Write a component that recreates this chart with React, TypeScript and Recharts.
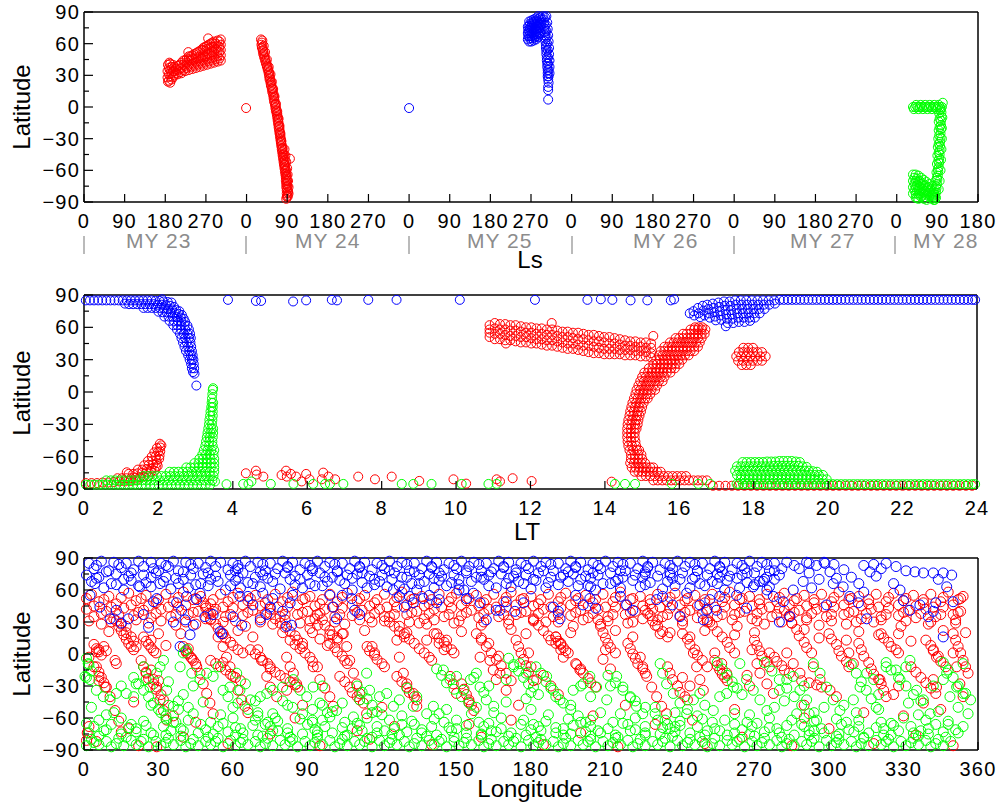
import React from "react";
import { ScatterChart, Scatter, XAxis, YAxis } from "recharts";

const FONT = "'Liberation Sans', Arial, Helvetica, sans-serif";
const RED = "#ff0000";
const BLUE = "#0000ff";
const GREEN = "#00ff00";

// axis ticks
const lsTicks = [0, 90, 180, 270, 360, 450, 540, 630, 720, 810, 900, 990, 1080, 1170, 1260, 1350, 1440, 1530, 1620, 1710, 1800, 1890, 1980];
const ltTicks = [0, 2, 4, 6, 8, 10, 12, 14, 16, 18, 20, 22, 24];
const lonTicks = [0, 30, 60, 90, 120, 150, 180, 210, 240, 270, 300, 330, 360];
const latTicks = [-90, -75, -60, -45, -30, -15, 0, 15, 30, 45, 60, 75, 90];
const yearLabels = ["MY 23", "MY 24", "MY 25", "MY 26", "MY 27", "MY 28"];

// ---- panel 1: cumulative Ls vs latitude
const p1Red = [
  [185,28],[185,34],[186,40],[186,24],[188,25],[188,31],[188,37],[189,42],[191,23],[191,29],[191,35],[191,41],[194,26],[194,32],[194,38],[197,28],[197,34],[197,40],
  [200,30],[200,34],[200,38],[208,31],[208,35],[208,39],[216,32],[216,37],[216,42],[224,34],[224,39],[224,44],
  [232,35],[232,40],[232,45],[232,48],[240,36],[240,41],[240,46],[240,49],[248,37],[248,42],[248,47],[248,51],
  [256,38],[256,43],[256,48],[256,53],[264,39],[264,44],[264,49],[264,54],[264,56],[272,40],[272,45],[272,50],[272,55],[272,58],
  [280,41],[280,46],[280,51],[280,56],[280,60],[288,42],[288,47],[288,52],[288,57],[288,62],[296,43],[296,48],[296,53],[296,58],[296,63],
  [303,44],[303,49],[303,54],[303,59],[303,64],[231,52],[275,65],
  [204,32],[212,36],[220,40],[228,42],[236,44],[244,45],[252,46],[260,47],[268,48],[276,50],[284,52],[292,55],[300,57],
  [204,36],[212,33],[212,40],[220,35],[220,44],[228,37],[228,46],[236,38],[236,48],[244,39],[244,50],[252,40],[252,52],
  [260,41],[260,54],[268,42],[268,53],[268,57],[276,43],[276,55],[276,59],[284,44],[284,57],[284,61],[292,45],[292,60],[300,46],[300,52],[300,62],
  [359,-1],
  [392,64],[395,63],[393,59],[394,56],[396,53],[397,50],[399,47],[401,44],[403,41],[405,38],[407,35],[409,32],[410,29],[411,26],[413,23],
  [414,20],[416,17],[417,14],[419,11],[420,8],[421,5],[423,2],[424,-1],[425,-4],[427,-7],[428,-10],[429,-13],[430,-16],[431,-19],
  [432,-22],[433,-25],[434,-28],[435,-31],[436,-34],[437,-37],[438,-40],[439,-43],[440,-46],[441,-49],[442,-52],[443,-55],[444,-58],
  [445,-61],[446,-64],[447,-67],[447,-70],[448,-73],[448,-76],[449,-79],[449,-82],[449,-85],[448,-87],
  [443,-45],[445,-50],[446,-55],[448,-60],[449,-65],[450,-70],[451,-75],[452,-80],[451,-85],[456,-49],
  [398,58],[401,52],[405,45],[409,38],[413,31],[416,24],[419,17],[422,10],[425,3],[428,-4],[431,-11],[433,-18],[435,-25],[437,-32],[440,-39],
  [394,61],[395,57],[397,54],[398,51],[400,48],[402,45],[404,42],[406,39],[408,36],[410,33],[411,30],[412,27],[414,24],[415,21],
  [417,18],[418,15],[420,12],[421,9],[422,6],[424,3],[425,0],[426,-3],[428,-6],[429,-9],[430,-12],[431,-15],[432,-18],[433,-21],
  [434,-24],[435,-27],[436,-30],[437,-33],[438,-36],[439,-39],[440,-42],[441,-45],[442,-48],[443,-51],[444,-54],[445,-57],[446,-60],
  [447,-63],[448,-66],[449,-69],[449,-72],[450,-75],[450,-78],[451,-81],[451,-84],
  [444,-40],[446,-46],[448,-52],[450,-58],[451,-64],[452,-70],[453,-76],[453,-82],
];

const p1Blue = [
  [720,-1],
  [983,64],[983,70],[983,76],[986,62],[986,67],[986,72],[986,77],[986,81],[991,62],[991,67],[991,72],[991,77],[991,82],
  [996,63],[996,68],[996,73],[996,78],[996,83],[1001,64],[1001,69],[1001,74],[1001,79],[1001,84],
  [1006,66],[1006,71],[1006,76],[1006,81],[1006,86],[1011,70],[1011,75],[1011,80],[1011,85],
  [984,67],[984,73],[988,65],[988,70],[988,75],[988,79],[993,65],[993,70],[993,75],[993,80],[998,66],[998,71],[998,76],[998,81],
  [1003,67],[1003,72],[1003,77],[1003,82],[1008,69],[1008,74],[1008,79],[1008,84],[1013,78],[1013,83],
  [1016,86],[1018,83],[1019,80],[1020,77],[1020,74],[1021,71],[1021,68],[1022,65],[1022,62],[1023,59],[1023,56],[1024,53],
  [1024,50],[1025,47],[1025,44],[1026,41],[1026,38],[1027,35],[1027,32],[1027,29],[1028,26],[1028,19],[1028,16],[1028,7],
  [1024,86],[1026,80],[1027,74],[1028,68],[1029,62],[1030,56],[1030,50],[1031,44],[1031,38],[1031,32],
  [1021,85],[1023,78],[1024,72],[1025,66],[1026,60],[1027,54],[1028,47],[1028,41],[1029,35],[1029,29],[1029,23],
];

const p1Green = [
  [1836,0],[1841,0],[1846,0],[1851,0],[1856,0],[1861,0],[1866,0],[1871,0],[1876,0],[1881,0],[1886,0],[1891,0],[1896,0],[1900,0],[1902,4],
  [1838,-2],[1848,-2],[1858,-2],[1868,-2],[1878,-2],[1888,-2],[1898,-2],[1843,2],[1853,2],[1863,2],[1873,2],[1883,2],[1893,2],
  [1899,-5],[1899,-9],[1898,-13],[1898,-17],[1898,-21],[1897,-25],[1897,-29],[1896,-33],[1896,-37],[1895,-41],[1895,-45],[1894,-49],
  [1894,-53],[1893,-57],[1892,-61],[1891,-65],[1890,-69],[1889,-73],[1888,-77],[1887,-81],[1885,-85],[1882,-88],
  [1894,-6],[1893,-14],[1893,-22],[1892,-30],[1891,-38],[1890,-46],[1889,-54],[1888,-62],[1886,-70],[1884,-78],[1880,-84],
  [1901,-10],[1900,-20],[1900,-30],[1899,-40],[1898,-50],[1897,-60],[1895,-70],[1893,-78],
  [1896,-3],[1895,-11],[1895,-19],[1894,-27],[1893,-35],[1893,-43],[1892,-51],[1891,-59],[1889,-67],[1887,-75],[1884,-82],
  [1836,-64],[1836,-70],[1836,-76],[1836,-82],[1842,-64],[1842,-70],[1842,-76],[1842,-82],[1842,-86],[1848,-65],[1848,-71],[1848,-77],[1848,-83],[1848,-87],
  [1854,-67],[1854,-73],[1854,-79],[1854,-85],[1860,-69],[1860,-75],[1860,-81],[1860,-87],[1866,-71],[1866,-77],[1866,-83],[1866,-88],
  [1872,-73],[1872,-79],[1872,-85],[1878,-75],[1878,-81],[1878,-87],[1884,-83],[1884,-88],
  [1839,-67],[1839,-73],[1839,-79],[1845,-68],[1845,-74],[1845,-80],[1845,-86],[1851,-70],[1851,-76],[1851,-82],[1857,-72],[1857,-78],
  [1857,-84],[1863,-74],[1863,-80],[1863,-86],[1869,-76],[1869,-82],[1875,-78],[1875,-84],[1881,-80],[1881,-86],[1887,-86],
];

// ---- panel 2: local time vs latitude
const p2Blue = [
  [0.05,85],[0.16,85],[0.27,85],[0.38,85],[0.49,85],[0.6,85],[0.71,85],[0.82,85],[0.93,85],[1.04,85],[1.15,85],[1.26,85],[1.37,85],[1.48,85],
  [1.59,85],[1.7,85],[1.81,85],[1.92,84.5],[2.03,84.5],[2.14,84],[2.25,83.5],[2.35,83],
  [1.1,82],[1.21,81.5],[1.32,81.5],[1.43,81.5],[1.54,81.5],[1.65,81.5],[1.76,81.5],[1.87,81.5],[1.98,81],[2.09,81],[2.2,80.5],[2.31,80],[2.42,79],
  [1.6,78],[1.71,78],[1.82,78],[1.93,78],[2.04,78],[2.15,77.5],[2.26,77],[2.37,76.5],[2.48,76],[2.56,75],
  [2.0,74.5],[2.11,74],[2.22,74],[2.33,73.5],[2.44,73],[2.54,72.5],[2.63,71.5],
  [2.16,70],[2.27,70],[2.38,70],[2.49,69.5],[2.6,69],[2.68,68],
  [2.3,66],[2.41,66],[2.52,66],[2.62,65.5],[2.72,65],[2.4,62],[2.5,62],[2.6,62],[2.7,62],[2.78,61.5],
  [2.5,58],[2.61,58],[2.72,58],[2.82,58],[2.58,54],[2.68,54],[2.78,54],[2.85,54],[2.62,50],[2.72,50],[2.82,50],[2.87,50],
  [2.66,46],[2.76,46],[2.86,46],[2.7,42],[2.8,42],[2.88,42],[2.74,38],[2.83,38],[2.9,38],[2.8,34],[2.87,34],[2.92,34],
  [2.84,30],[2.9,30],[2.94,30],[2.88,26],[2.95,26],[2.9,22],[2.96,22],[2.93,18.5],[2.97,17],[3.02,6],
  [2.1,86],[3.87,85.5],[4.62,84.5],[4.76,84.5],[5.62,84],[5.97,85],[6.66,85.5],[6.8,85],[7.64,85.5],[8.4,85.5],[10.1,85.5],
  [12.12,85.5],[13.53,85.5],[13.89,86],[14.2,85.5],[14.69,85],[15.14,85],[15.77,85],[15.86,86],
  [16.28,73],[16.38,75],[16.4,71],[16.5,78],[16.52,73],[16.56,69.5],[16.63,80],[16.65,75.5],[16.68,71],[16.75,81],[16.78,77],[16.8,73],[16.82,69],
  [16.9,82],[16.92,78],[16.94,74],[16.96,70],[16.98,66.5],[17.05,83],[17.07,79],[17.09,75],[17.11,71],[17.13,67],
  [17.2,84],[17.22,80],[17.24,76],[17.26,72],[17.28,68],[17.3,64],[17.35,84],[17.37,80],[17.39,76],[17.41,72],[17.43,68],[17.45,64],
  [17.5,85],[17.52,81],[17.54,77],[17.56,73],[17.58,69],[17.6,65],[17.65,85],[17.67,81],[17.69,77],[17.71,73],[17.73,69],[17.75,65],
  [17.8,85],[17.82,81],[17.84,77],[17.86,73],[17.88,69],[17.9,66],[17.95,85],[17.97,81],[17.99,77],[18.01,73],[18.03,69],
  [18.1,85],[18.12,81],[18.14,77],[18.16,73],[18.25,85],[18.27,81],[18.29,77],[18.4,85],[18.42,81],[18.55,85],[18.57,82],[17.25,61],
  [18.7,85.5],[18.81,85.5],[18.92,85.5],[19.03,85.5],[19.14,85.5],[19.25,85.5],[19.36,85.5],[19.47,85.5],[19.58,85.5],[19.69,85.5],
  [19.8,85.5],[19.91,85.5],[20.02,85.5],[20.13,85.5],[20.24,85.5],[20.35,85.5],[20.46,85.5],[20.57,85.5],[20.68,85.5],[20.79,85.5],
  [20.9,85.5],[21.01,85.5],[21.12,85.5],[21.23,85.5],[21.34,85.5],[21.45,85.5],[21.56,85.5],[21.67,85.5],[21.78,85.5],[21.89,85.5],
  [22.0,85.5],[22.11,85.5],[22.22,85.5],[22.33,85.5],[22.44,85.5],[22.55,85.5],[22.66,85.5],[22.77,85.5],[22.88,85.5],[22.99,85.5],
  [23.1,85.5],[23.21,85.5],[23.32,85.5],[23.43,85.5],[23.54,85.5],[23.65,85.5],[23.76,85.5],[23.87,85.5],[23.95,85.5],
];

const p2Red = [
  [0.05,-84.5],[0.2,-84.5],[0.35,-84.5],[0.5,-84],[0.65,-84],[0.8,-83.5],[0.95,-83],[1.1,-83],[1.25,-82.5],[1.4,-82],
  [0.9,-80],[1.02,-80],[1.14,-80],[1.26,-80],[1.38,-79.5],[1.5,-79],[1.62,-78.5],[1.74,-78],
  [1.2,-76],[1.32,-76],[1.44,-75.5],[1.56,-75],[1.68,-74.5],[1.8,-74],[1.9,-73],
  [1.45,-72],[1.57,-72],[1.69,-71.5],[1.81,-71],[1.93,-70],[1.98,-68.5],[1.62,-68],[1.74,-67.5],[1.86,-67],[1.96,-66],
  [1.72,-64],[1.84,-63.5],[1.95,-63],[2.02,-62],[1.82,-60],[1.93,-59.5],[2.03,-59],[1.89,-56],[1.99,-55.5],[2.05,-55],
  [1.96,-52],[2.05,-51.5],[2.04,-48],[2.08,-49.5],[1.15,-74.5],
  [4.35,-75.4],[4.62,-73],[4.64,-76.6],[4.82,-78.5],[5.31,-77],[5.43,-73],[5.45,-78.5],[5.56,-76],[5.7,-78.5],[5.85,-83],[5.97,-76],
  [6.06,-81],[6.43,-74.8],[6.39,-81],[6.57,-78.5],[6.75,-81],[7.37,-78.5],[7.82,-81],[8.27,-78.5],[9.01,-82.5],[9.93,-81],[10.27,-85],
  [11.09,-81],[11.18,-83],[11.52,-80],[12.03,-82.6],[14.18,-83.2],
  [10.9,62],[10.9,58],[10.9,55],[10.9,51],[11.04,64],[11.04,59],[11.04,54],[11.04,49],[11.18,63],[11.18,58],[11.18,54],[11.18,49],
  [11.32,63],[11.32,58],[11.32,53],[11.32,48],[11.46,62],[11.46,57],[11.46,52],[11.46,48],[11.6,62],[11.6,57],[11.6,52],[11.6,47],
  [11.74,61],[11.74,56],[11.74,51],[11.74,46],[11.88,60],[11.88,55],[11.88,51],[11.88,46],[12.02,60],[12.02,55],[12.02,50],[12.02,45],
  [12.16,59],[12.16,54],[12.16,49],[12.16,45],[12.3,59],[12.3,54],[12.3,49],[12.3,44],[12.44,58],[12.44,53],[12.44,48],[12.44,43],
  [12.58,58],[12.58,53],[12.58,48],[12.58,43],[12.72,57],[12.72,52],[12.72,47],[12.72,42],[12.86,56],[12.86,51],[12.86,46],[12.86,41],
  [13.0,56],[13.0,51],[13.0,45],[13.0,40],[13.14,55],[13.14,50],[13.14,45],[13.14,40],[13.28,55],[13.28,49],[13.28,44],[13.28,39],
  [13.42,54],[13.42,49],[13.42,43],[13.42,38],[13.56,53],[13.56,48],[13.56,43],[13.56,37],[13.7,53],[13.7,47],[13.7,42],[13.7,36],
  [13.84,52],[13.84,47],[13.84,41],[13.84,36],[13.98,51],[13.98,46],[13.98,40],[13.98,35],[14.12,51],[14.12,45],[14.12,40],[14.12,35],
  [14.26,50],[14.26,45],[14.26,40],[14.26,35],[14.4,49],[14.4,44],[14.4,39],[14.4,35],[14.54,48],[14.54,43],[14.54,39],[14.54,34],
  [14.68,47],[14.68,43],[14.68,39],[14.68,34],[14.82,47],[14.82,42],[14.82,38],[14.82,34],[14.96,46],[14.96,42],[14.96,38],[14.96,33],
  [15.1,46],[15.1,41],[15.1,37],[15.1,33],[15.24,45],[15.24,41],[15.24,36],[15.24,32],[12.57,64],[15.3,52],[11.34,45],
  [16.42,60],[16.52,60],[16.62,60],[16.3,58],[16.4,58],[16.5,58],[16.6,58],[16.7,58],
  [16.1,54],[16.2,54],[16.3,54],[16.4,54],[16.5,54],[16.6,54],[16.68,54],
  [15.9,50],[16.0,50],[16.1,50],[16.2,50],[16.3,50],[16.4,50],[16.5,50],[16.6,50],
  [15.75,46],[15.85,46],[15.95,46],[16.05,46],[16.15,46],[16.25,46],[16.35,46],[16.45,46],[16.55,46],
  [15.6,42],[15.7,42],[15.8,42],[15.9,42],[16.0,42],[16.1,42],[16.2,42],[16.3,42],[16.4,42],[16.5,42],
  [15.5,38],[15.6,38],[15.7,38],[15.8,38],[15.9,38],[16.0,38],[16.1,38],[16.2,38],[16.3,38],[16.4,38],
  [15.45,34],[15.55,34],[15.65,34],[15.75,34],[15.85,34],[15.95,34],[16.05,34],[16.15,34],[16.25,34],
  [15.38,30],[15.48,30],[15.58,30],[15.68,30],[15.78,30],[15.88,30],[15.98,30],[16.08,30],
  [15.3,26],[15.4,26],[15.5,26],[15.6,26],[15.7,26],[15.8,26],[15.9,26],[16.0,26],
  [15.18,22],[15.28,22],[15.38,22],[15.48,22],[15.58,22],[15.68,22],[15.78,22],[15.88,22],
  [15.06,18],[15.16,18],[15.26,18],[15.36,18],[15.46,18],[15.56,18],[15.66,18],[15.76,18],
  [15.0,14],[15.1,14],[15.2,14],[15.3,14],[15.4,14],[15.5,14],[15.6,14],
  [14.95,10],[15.05,10],[15.15,10],[15.25,10],[15.35,10],[15.45,10],[15.55,10],
  [14.9,6],[15.0,6],[15.1,6],[15.2,6],[15.3,6],[15.4,6],[14.85,2],[14.95,2],[15.05,2],[15.15,2],[15.25,2],[15.35,2],
  [14.82,-2],[14.92,-2],[15.02,-2],[15.12,-2],[15.22,-2],[14.78,-6],[14.88,-6],[14.98,-6],[15.08,-6],[15.15,-6],
  [14.74,-10],[14.84,-10],[14.94,-10],[15.04,-10],[14.71,-14],[14.81,-14],[14.91,-14],[15.0,-14],
  [14.68,-18],[14.78,-18],[14.88,-18],[14.97,-18],[14.66,-22],[14.76,-22],[14.86,-22],[14.93,-22],
  [14.63,-26],[14.73,-26],[14.83,-26],[14.9,-26],[14.61,-30],[14.71,-30],[14.81,-30],[14.88,-30],
  [14.6,-34],[14.7,-34],[14.8,-34],[14.85,-34],[14.6,-38],[14.7,-38],[14.8,-38],[14.6,-42],[14.7,-42],[14.8,-42],
  [14.61,-46],[14.71,-46],[14.82,-46],[14.63,-50],[14.73,-50],[14.84,-50],[14.66,-54],[14.76,-54],[14.86,-54],[14.92,-54],
  [14.7,-58],[14.8,-58],[14.9,-58],[14.98,-58],[14.7,-62],[14.8,-62],[14.9,-62],[15.0,-62],
  [14.68,-66],[14.78,-66],[14.88,-66],[14.98,-66],[15.08,-66],[14.72,-70],[14.82,-70],[14.92,-70],[15.02,-70],[15.12,-70],[15.22,-70],[15.3,-70],
  [14.8,-74],[14.9,-74],[15.0,-74],[15.1,-74],[15.2,-74],[15.3,-74],[15.4,-74],[15.5,-74],
  [14.98,-78],[15.1,-78],[15.22,-78],[15.34,-78],[15.46,-78],[15.58,-78],[15.7,-78],[15.82,-78],[15.94,-78],[16.06,-78],[16.18,-78],
  [15.3,-82],[15.42,-82],[15.54,-82],[15.66,-82],[15.78,-82],[15.9,-82],[16.02,-82],[16.14,-82],[16.26,-82],[16.38,-82],[16.5,-82],[16.62,-82],[16.74,-82],
  [17.72,41],[17.85,41],[17.98,41],[17.6,37],[17.72,37],[17.85,37],[17.98,37],[18.1,37],[18.22,37],
  [17.53,33],[17.66,33],[17.79,33],[17.92,33],[18.05,33],[18.18,33],[18.32,33],
  [17.58,29],[17.71,29],[17.84,29],[17.97,29],[18.1,29],[18.22,29],[17.68,25],[17.8,25],[17.92,25],
  [16.9,-87],[17.07,-87],[17.24,-87],[17.41,-87],[17.58,-87],[17.75,-87],[17.92,-87],[18.09,-87],[18.26,-87],[18.43,-87],
  [18.6,-87],[18.77,-87],[18.94,-87],[19.11,-87],[19.28,-87],[19.45,-87],[19.62,-87],[19.79,-87],[19.96,-87],[20.13,-87],
  [20.3,-87],[20.47,-87],[20.64,-87],[20.81,-87],[20.98,-87],[21.15,-87],[21.32,-87],[21.49,-87],[21.66,-87],[21.83,-87],
  [22.0,-87],[22.17,-87],[22.34,-87],[22.51,-87],[22.68,-87],[22.85,-87],[23.02,-87],[23.19,-87],[23.36,-87],[23.53,-87],[23.7,-87],[23.87,-87],
];

const p2Green = [
  [0.05,-86],[0.17,-86],[0.28,-86],[0.4,-86],[0.51,-86],[0.63,-86],[0.74,-86],[0.86,-86],[0.97,-86],[1.09,-86],[1.2,-86],[1.32,-86],
  [1.43,-86],[1.55,-86],[1.66,-86],[1.78,-86],[1.89,-86],[2.01,-86],[2.12,-86],[2.24,-86],[2.35,-86],[2.47,-86],[2.58,-86],[2.7,-86],
  [2.81,-86],[2.93,-86],[3.04,-86],[3.16,-86],[3.27,-86],[3.39,-86],
  [0.6,-82],[0.72,-82],[0.84,-82],[0.96,-82],[1.08,-82],[1.2,-82],[1.32,-82],[1.44,-82],[1.56,-82],[1.68,-82],[1.8,-82],[1.92,-82],
  [2.04,-82],[2.16,-82],[2.28,-82],[2.4,-82],[2.52,-82],[2.64,-82],[2.76,-82],[2.88,-82],[3.0,-82],[3.12,-82],[3.24,-82],[3.36,-82],[3.45,-82],
  [1.6,-78],[1.72,-78],[1.84,-78],[1.96,-78],[2.08,-78],[2.2,-78],[2.32,-78],[2.44,-78],[2.56,-78],[2.68,-78],[2.8,-78],[2.92,-78],
  [3.04,-78],[3.16,-78],[3.28,-78],[3.4,-78],[3.48,-78],
  [2.3,-74],[2.42,-74],[2.54,-74],[2.66,-74],[2.78,-74],[2.9,-74],[3.02,-74],[3.14,-74],[3.26,-74],[3.38,-74],[3.5,-74],
  [2.75,-70],[2.86,-70],[2.97,-70],[3.08,-70],[3.19,-70],[3.3,-70],[3.41,-70],[3.5,-70],
  [2.97,-66],[3.08,-66],[3.19,-66],[3.3,-66],[3.41,-66],[3.5,-66],[3.1,-62],[3.2,-62],[3.3,-62],[3.4,-62],[3.5,-62],
  [3.18,-58],[3.28,-58],[3.38,-58],[3.48,-58],[3.22,-54],[3.32,-54],[3.42,-54],[3.5,-54],[3.26,-50],[3.36,-50],[3.46,-50],
  [3.28,-46],[3.37,-46],[3.45,-46],[3.3,-42],[3.38,-42],[3.46,-42],[3.32,-38],[3.4,-38],[3.47,-38],[3.34,-34],[3.42,-34],[3.47,-34],
  [3.36,-30],[3.44,-30],[3.37,-26],[3.45,-26],[3.39,-22],[3.46,-22],[3.4,-18],[3.46,-18],[3.42,-14],[3.46,-14],[3.43,-10],[3.47,-10],
  [3.44,-6],[3.45,-2],[3.46,2],[3.47,3.5],
  [3.52,-83],[3.83,-85.5],[4.28,-85.3],[4.42,-85.3],[4.5,-83],[5.02,-85.3],[5.63,-85.3],[6.16,-85.3],[6.48,-85.3],[6.61,-85.3],[6.97,-85.3],
  [8.54,-85.3],[8.85,-85.3],[9.34,-85.3],[10.15,-85.3],[10.87,-85.3],[11.09,-85.3],[14.27,-85.3],[14.54,-85.3],[14.81,-85.3],
  [15.8,-85.3],[16.51,-85.3],[16.83,-85.3],[17.54,-85.3],
  [17.7,-65],[17.81,-65],[17.92,-65],[18.03,-65],[18.14,-65],[18.25,-65],[18.36,-64.5],[18.47,-64.5],[18.58,-64.5],[18.69,-64],
  [18.8,-64],[18.91,-64],[19.02,-64],[19.13,-64.5],[19.24,-65],
  [17.55,-69],[17.66,-69],[17.77,-69],[17.88,-69],[17.99,-69],[18.1,-69],[18.21,-69],[18.32,-69],[18.43,-69],[18.54,-68.5],
  [18.65,-68.5],[18.76,-68.5],[18.87,-68.5],[18.98,-68.5],[19.09,-68.5],[19.2,-68.5],[19.31,-69],[19.42,-69.5],
  [17.5,-73],[17.61,-73],[17.72,-73],[17.83,-73],[17.94,-73],[18.05,-73],[18.16,-73],[18.27,-73],[18.38,-73],[18.49,-73],[18.6,-73],
  [18.71,-73],[18.82,-73],[18.93,-73],[19.04,-73],[19.15,-73],[19.26,-73],[19.37,-73],[19.48,-73],[19.59,-73.5],[19.7,-74],
  [17.55,-77],[17.66,-77],[17.77,-77],[17.88,-77],[17.99,-77],[18.1,-77],[18.21,-77],[18.32,-77],[18.43,-77],[18.54,-77],[18.65,-77],
  [18.76,-77],[18.87,-77],[18.98,-77],[19.09,-77],[19.2,-77],[19.31,-77],[19.42,-77],[19.53,-77],[19.64,-77],[19.75,-77],[19.86,-77],
  [17.65,-81],[17.76,-81],[17.87,-81],[17.98,-81],[18.09,-81],[18.2,-81],[18.31,-81],[18.42,-81],[18.53,-81],[18.64,-81],[18.75,-81],
  [18.86,-81],[18.97,-81],[19.08,-81],[19.19,-81],[19.3,-81],[19.41,-81],[19.52,-81],[19.63,-81],[19.74,-81],[19.85,-81],[19.96,-81],
  [17.6,-85.5],[17.71,-85.5],[17.82,-85.5],[17.93,-85.5],[18.04,-85.5],[18.15,-85.5],[18.26,-85.5],[18.37,-85.5],[18.48,-85.5],[18.59,-85.5],
  [18.7,-85.5],[18.81,-85.5],[18.92,-85.5],[19.03,-85.5],[19.14,-85.5],[19.25,-85.5],[19.36,-85.5],[19.47,-85.5],[19.58,-85.5],[19.69,-85.5],
  [19.8,-85.5],[19.91,-85.5],[20.02,-85.5],[20.13,-85.5],[20.24,-85.5],[20.35,-85.5],[20.46,-85.5],[20.57,-85.5],[20.68,-85.5],[20.79,-85.5],
  [20.9,-85.5],[21.01,-85.5],[21.12,-85.5],[21.23,-85.5],[21.34,-85.5],[21.45,-85.5],[21.56,-85.5],[21.67,-85.5],[21.78,-85.5],[21.89,-85.5],
  [22.0,-85.5],[22.11,-85.5],[22.22,-85.5],[22.33,-85.5],[22.44,-85.5],[22.55,-85.5],[22.66,-85.5],[22.77,-85.5],[22.88,-85.5],[22.99,-85.5],
  [23.1,-85.5],[23.21,-85.5],[23.32,-85.5],[23.43,-85.5],[23.54,-85.5],[23.65,-85.5],[23.76,-85.5],[23.87,-85.5],[23.95,-85.5],
];

// ---- panel 3: longitude vs latitude
const p3Red = [
  [3,56],[10,54],[18,57],[25,55],[33,56],[40,58],[47,54],[55,56],[62,57],[69,55],[77,56],[84,58],[91,54],[99,56],[106,57],[113,55],
  [121,56],[128,58],[136,54],[143,56],[150,57],[158,55],[165,56],[172,58],[180,54],[187,56],[194,57],[202,55],[209,56],[216,58],
  [224,54],[231,56],[238,57],[246,55],[253,56],[260,58],[268,54],[275,56],[282,57],[290,55],[297,56],[304,58],[312,54],[319,56],
  [326,57],[334,55],[341,56],[348,58],[354,54],
  [1,52],[8,51],[15,53],[23,52],[30,51],[38,53],[45,52],[52,51],[60,53],[67,52],[74,51],[82,53],[89,52],[96,51],[104,53],[111,52],
  [118,51],[126,53],[133,52],[140,51],[148,53],[155,52],[162,51],[170,53],[177,52],[184,51],[192,53],[199,52],[206,51],[214,53],
  [221,52],[228,51],[236,53],[243,52],[250,51],[258,53],[265,52],[272,51],[280,53],[287,52],[294,51],[302,53],[309,52],[316,51],
  [324,53],[331,52],[338,51],[346,53],[353,52],
  [6,49],[13,47],[21,50],[29,48],[36,49],[44,51],[51,47],[58,49],[66,50],[73,48],[80,49],[88,51],[95,47],[102,49],[110,50],[117,48],
  [125,49],[132,51],[139,47],[147,49],[154,50],[161,48],[169,49],[176,51],[183,47],[191,49],[198,50],[205,48],[213,49],[220,51],
  [228,47],[235,49],[242,50],[250,48],[257,49],[264,51],[272,47],[279,49],[286,50],[294,48],[301,49],[308,51],[316,47],[323,49],
  [330,50],[338,48],[345,49],[352,51],
  [4,45],[11,44],[19,46],[26,45],[34,44],[41,46],[49,45],[56,44],[64,46],[71,45],[78,44],[86,46],[93,45],[100,44],[108,46],[115,45],
  [122,44],[130,46],[137,45],[144,44],[152,46],[159,45],[166,44],[174,46],[181,45],[188,44],[196,46],[203,45],[210,44],[218,46],
  [225,45],[232,44],[240,46],[247,45],[254,44],[262,46],[269,45],[276,44],[284,46],[291,45],[298,44],[306,46],[313,45],[320,44],
  [328,46],[335,45],[342,44],[350,46],
  [1,42],[9,40],[16,43],[24,41],[31,42],[38,44],[46,40],[53,42],[60,43],[68,41],[75,42],[82,44],[90,40],[97,42],[104,43],[112,41],
  [119,42],[126,44],[134,40],[141,42],[148,43],[156,41],[163,42],[170,44],[178,40],[185,42],[192,43],[200,41],[207,42],[214,44],
  [222,40],[229,42],[236,43],[244,41],[251,42],[258,44],[266,40],[273,42],[280,43],[288,41],[295,42],[302,44],[310,40],[317,42],
  [324,43],[332,41],[339,42],[346,44],[353,40],
  [7,38],[14,37],[22,39],[29,38],[37,37],[44,39],[51,38],[59,37],[66,39],[73,38],[81,37],[88,39],[95,38],[103,37],[110,39],[117,38],
  [125,37],[132,39],[139,38],[147,37],[154,39],[161,38],[169,37],[176,39],[183,38],[191,37],[198,39],[205,38],[213,37],[220,39],
  [227,38],[235,37],[242,39],[249,38],[257,37],[264,39],[271,38],[279,37],[286,39],[293,38],[301,37],[308,39],[315,38],[323,37],
  [330,39],[337,38],[345,37],[352,39],
  [4,35],[12,33],[20,36],[27,34],[35,35],[42,37],[49,33],[57,35],[64,36],[71,34],[79,35],[86,37],[93,33],[101,35],[108,36],[115,34],
  [123,35],[130,37],[137,33],[145,35],[152,36],[159,34],[167,35],[174,37],[181,33],[189,35],[196,36],[203,34],[211,35],[218,37],
  [225,33],[233,35],[240,36],[247,34],[255,35],[262,37],[269,33],[277,35],[284,36],[291,34],[299,35],[306,37],[313,33],[321,35],
  [328,36],[335,34],[343,35],[350,37],
  [2,31],[11,30],[21,32],[31,31],[41,30],[51,32],[61,31],[71,30],[81,32],[91,31],[101,30],[111,32],[121,31],[131,30],[141,32],[151,31],
  [161,30],[171,32],[181,31],[191,30],[201,32],[211,31],[221,30],[231,32],[241,31],[251,30],[261,32],[271,31],[281,30],[291,32],
  [301,31],[311,30],[321,32],[331,31],[341,30],[351,32],
  [7,28],[17,26],[26,29],[37,27],[45,28],[56,30],[65,26],[76,28],[87,29],[94,27],[105,28],[116,30],[127,26],[138,28],[149,29],[160,27],
  [171,28],[186,30],[197,26],[208,28],[219,29],[230,27],[241,28],[252,30],[263,26],[274,28],[285,29],[296,27],[307,28],[318,30],
  [329,26],[340,28],[351,29],
  [10,21],[39,19],[62,22],[80,20],[91,24],[99,18],[113,22],[130,20],[152,21],[172,23],[196,20],[214,22],[232,19],[250,22],[270,20],
  [290,23],[312,21],[328,19],[346,22],
  [19,16],[20,12],[21,7],[5,2],[6,4],[92,20],[95,14],[88,10],[98,8],[102,15],[116,7],[117,1],[142,19],[143,10],[145,4],[146,13],
  [190,16],[192,10],[192,4],[210,4],[221,16],[244,16],[254,1],[269,4],[283,1],[307,13],[308,1],[342,4],[350,1],[135,29],[138,13],
  [104,19],[54,16],[56,7],[68,16],[70,4],[126,13],[178,19],[179,1],[160,15],[236,20],[262,18],[296,15],[320,18],[333,12],[355,20],
  [30,19],[33,8],
  [4,9],[5,5],[6,2],[7,-1],[8,7],[9,3],[5,-12],[6,-17],[7,-22],[8,-27],[9,-31],[6,-25],
  [13,31],[14,26],[15,22],[16,18],[17,14],[18,10],[19,7],[20,4],[15,28],[17,20],
  [24,16],[25,12],[26,9],[27,6],[28,3],[29,1],[27,13],
  [23,-6],[24,-12],[25,-18],[26,-23],[28,-28],[29,-33],[31,-38],[32,-43],[27,-15],[30,-25],
  [40,7],[41,3],[42,0],[43,-3],[44,-6],[45,-9],[42,5],
  [48,48],[49,43],[50,38],[51,33],[53,28],[54,24],[56,19],[52,40],
  [51,-6],[53,-9],[55,-12],[57,-15],[59,-19],[61,-22],[63,-25],[56,-8],
  [56,19],[57,15],[59,11],[60,8],[62,4],[64,1],
  [67,4],[69,0],[71,-3],[72,-6],[74,-9],[75,-12],
  [75,-14],[77,-17],[79,-20],[81,-23],[83,-26],[85,-29],[86,-31],
  [75,38],[77,33],[79,29],[81,25],[83,21],[85,17],[86,13],
  [83,13],[85,9],[87,5],[89,1],[91,-3],[92,-7],[94,-12],[88,7],
  [94,37],[96,32],[97,27],[99,22],[100,18],[102,13],
  [99,10],[101,6],[102,2],[104,-2],[105,-6],[106,-9],
  [103,-21],[105,-26],[107,-31],[108,-36],[110,-40],[111,-43],
  [114,7],[115,3],[117,-1],[118,-5],[120,-9],[121,-12],
  [121,35],[123,30],[125,26],[127,21],[129,16],
  [126,-21],[128,-26],[130,-31],[131,-36],[133,-40],[134,-43],
  [129,19],[131,14],[133,10],[135,5],[137,1],[139,-3],[140,-6],
  [141,19],[143,15],[145,11],[146,7],[148,4],[149,1],
  [152,-28],[153,-33],[154,-38],[155,-43],[156,-48],[157,-53],
  [158,19],[160,13],[162,7],[164,1],[166,-5],[168,-11],[170,-18],[172,-25],[163,10],[167,-2],
  [174,13],[175,7],[176,1],[177,-5],[178,-11],[179,-17],[181,-25],
  [181,32],[183,27],[185,22],[187,17],[188,13],[190,10],
  [190,16],[191,12],[192,9],[193,6],[194,3],[195,1],
  [198,-9],[200,-14],[201,-18],[203,-23],[204,-27],[206,-31],
  [207,32],[208,26],[209,20],[210,15],[211,10],[212,6],[214,1],
  [219,10],[220,5],[221,0],[222,-4],[223,-9],[225,-14],[226,-18],
  [226,41],[228,36],[229,31],[231,26],[233,21],[235,16],
  [235,-12],[236,-18],[237,-24],[239,-30],[240,-36],[242,-40],[243,-43],
  [241,19],[243,14],[244,9],[246,4],[247,-1],[249,-6],[251,-12],
  [251,32],[253,27],[255,21],[257,16],[259,11],[260,6],[262,1],
  [254,-6],[255,-11],[256,-15],[257,-19],[258,-22],[259,-25],
  [270,13],[271,8],[272,3],[273,-2],[275,-7],[276,-12],
  [276,1],[278,-3],[279,-7],[281,-11],[282,-15],[284,-18],
  [282,41],[284,35],[285,29],[287,23],[288,17],[290,11],[291,6],[293,1],
  [289,-25],[292,-27],[295,-29],[297,-31],
  [300,19],[301,14],[303,9],[304,3],[305,-2],[307,-7],[308,-12],
  [312,10],[313,4],[314,-2],[316,-8],[317,-14],[318,-19],[320,-24],[321,-28],
  [321,19],[322,15],[324,11],[325,7],[327,4],[328,1],
  [333,-12],[335,-17],[337,-22],[339,-27],[341,-32],[343,-37],
  [339,13],[341,8],[342,3],[344,-2],[345,-7],[347,-12],
  [350,19],[351,13],[352,7],[353,1],[354,-6],[355,-12],[356,-18],
  [2,-3],[4,-12],[6,-21],[8.5,-31],[10.5,-40],[12.5,-53],[14,-63],[15,-73],[2,-68],[1,-81],[1.3,-74],[12.5,-6],[13,-9],
  [25,-17],[28,-24],[29.3,-31],[30.6,-43],[32,-53],[33.3,-62],[29.3,-87],
  [41.3,1],[43.4,-4],[45.4,-12],[46.7,-18],[48,-28],[49.4,-37],[50.7,-46],[52,-56],
  [57.4,-3],[58.8,-12],[60,-21],[62,-34],[63.5,-43],[64.8,-49],[71.5,-6],[73.6,-21],[75,-31],[77.6,-40],
  [81.6,-3],[83,-12],[84.3,-18],[85.6,-28],[81.6,-34],[92.3,-12],[95,-24],[97,-32],[99,-40],[100.4,-49],
  [104.4,19],[105.8,7],[107,-6],[108.5,-18],[109.8,-28],[111,-37],[112.5,-46],[113.8,-56],
  [127,-3],[128.6,-18],[130,-28],[132.6,-37],[134,-49],[147.4,-21],[148.7,-28],[150,-37],
  [159.5,-3],[163.5,-6],[164.8,-15],[166,-24],[167.5,-18],[170,-34],[180,-12],[182.3,-24],[193,-3],[198.4,-10],[199.7,-15],
  [224,-3],[225,-12],[226.6,-21],[228.6,-31],[230.6,-40],[232.6,-49],[234.6,-56],[245.4,1],[246.7,-12],[248,-24],[249.4,-34],
  [256.8,-9],[258.8,-18],[271,-9],[272.2,-18],[275,-28],[277.6,-37],[285.6,-9],[288.3,-18],[293.7,-12],[296.4,-24],[300.4,-34],[303,-40],
  [309.8,-9],[320.5,-24],[322,-34],[323,-40],[343.3,-3],[342,-24],[343.3,-31],[351.4,-12],[352.7,-28],[354,-40],
  [185,-20],[188,-30],[191,-38],[209,-5],[212,-14],[241,-22],[244,-30],[267,-20],[268,-30],[326,-38],[328,-30],[338,-46],[345,-52],
  [314,-55],[290,-48],[262,-52],[218,-48],[175,-48],[155,-45],[120,-50],[88,-48],[66,-55],[36,-58],[20,-45],
  [5,-82],[18,-70],[22,-86],[40,-78],[58,-84],[75,-75],[95,-86],[115,-80],[125,-68],[140,-85],[160,-78],[172,-62],[185,-85],[200,-74],
  [215,-87],[230,-66],[250,-84],[265,-78],[285,-86],[300,-70],[318,-84],[335,-76],[350,-86],[45,-64],[85,-60],[110,-72],[155,-66],
  [205,-58],[245,-62],[290,-60],[330,-58],
];

const p3Blue = [
  [2,85],[7,87],[12,86],[17,85],[22,87],[27,86],[31,85],[36,87],[41,86],[46,85],[51,87],[55,86],[60,85],[65,87],[70,86],[75,85],
  [80,87],[84,86],[89,85],[94,87],[99,86],[104,85],[109,87],[113,86],[118,85],[123,87],[128,86],[133,85],[138,87],[142,86],[147,85],
  [152,87],[157,86],[162,85],[167,87],[171,86],[176,85],[181,87],[186,86],[191,85],[196,87],[200,86],[205,85],[210,87],[215,86],
  [220,85],[225,87],[229,86],[234,85],[239,87],[244,86],[249,85],[254,87],[258,86],[263,85],[268,87],[273,86],[278,85],[283,86],
  [292,85],[298,86],
  [5,83],[14,84],[24,82],[33,83],[43,84],[53,82],[62,83],[72,84],[82,82],[91,83],[101,84],[111,82],[120,83],[130,84],[140,82],
  [149,83],[159,84],[169,82],[178,83],[188,84],[198,82],[207,83],[217,84],[227,82],[236,83],[246,84],[256,82],[265,83],[275,84],[286,83],
  [4,80],[10,78],[15,81],[20,79],[28,80],[34,82],[38,78],[44,80],[49,81],[58,79],[62,80],[67,82],[73,78],[78,80],[82,81],[87,79],
  [92,80],[97,82],[102,78],[107,80],[111,81],[116,79],[121,80],[126,82],[131,78],[136,80],[140,81],[145,79],[150,80],[155,82],
  [160,78],[165,80],[169,81],[174,79],[179,80],[184,82],[189,78],[194,80],[198,81],[203,79],[208,80],[213,82],[218,78],[223,80],
  [227,81],[232,79],[237,80],[242,82],[247,78],[252,80],[256,81],[261,79],[266,80],[271,82],[276,78],[281,80],
  [9,77],[19,76],[30,78],[40,77],[50,76],[61,78],[71,77],[81,76],[92,78],[102,77],[112,76],[123,78],[133,77],[143,76],[154,78],
  [164,77],[174,76],[185,78],[195,77],[205,76],[216,78],[226,77],[236,76],[247,78],[257,77],[267,76],[278,78],
  [1,74],[6,72],[13,75],[18,73],[24,74],[29,76],[33,72],[43,74],[48,75],[53,73],[59,74],[64,76],[69,72],[72,74],[77,75],[85,73],
  [90,74],[95,76],[100,72],[106,74],[110,75],[115,73],[120,74],[125,76],[130,72],[135,74],[139,75],[144,73],[149,74],[154,76],
  [158,72],[163,74],[168,75],[173,73],[178,74],[183,76],[188,72],[193,74],[197,75],[202,73],[207,74],[212,76],[217,72],[222,74],
  [226,75],[231,73],[236,74],[241,76],[246,72],[251,74],[255,75],[260,73],[265,74],[270,76],[275,72],[280,74],
  [5,71],[16,70],[27,72],[37,71],[51,70],[62,72],[74,71],[87,70],[97,72],[108,71],[117,70],[128,72],[141,71],[151,70],[160,72],
  [171,71],[181,70],[192,72],[204,71],[215,70],[225,72],[237,71],[245,70],[256,72],[263,71],[274,70],
  [3,68],[11,66],[19,69],[25,67],[32,68],[40,70],[47,66],[54,68],[61,69],[66,67],[76,68],[83,70],[91,66],[98,68],[103,69],[112,67],
  [119,68],[124,70],[132,66],[137,68],[143,69],[148,67],[156,68],[161,70],[170,66],[175,68],[182,69],[187,67],[195,68],[200,70],
  [209,66],[214,68],[221,69],[228,67],[235,68],[240,70],[248,66],[253,68],[259,69],[267,67],[272,68],[278,70],
  [13,65],[22,64],[38,66],[45,65],[59,64],[68,66],[85,65],[93,64],[105,66],[117,65],[127,64],[135,66],[151,65],[163,64],[177,66],
  [191,65],[203,64],[212,66],[226,65],[238,64],[255,66],[270,65],
  [8,62],[16,60],[27,63],[35,61],[42,62],[50,64],[57,60],[63,62],[71,63],[79,61],[88,62],[96,64],[108,60],[114,62],[122,63],[129,61],
  [141,62],[146,64],[153,60],[166,62],[172,63],[180,61],[186,62],[199,64],[206,60],[216,62],[224,63],[233,61],[244,62],[250,64],
  [258,60],[264,62],[276,63],
  [4.4,66],[2.4,55],[6.4,44],[10.5,33],[13,41],[15,29],[17.9,33],[22.5,63],[23.9,37],[26,25],[28,49],[29.3,52],[30.6,66],[36,30],
  [37.3,48],[38.7,7],[39.3,41],[40.7,32],[42.7,18],[44,27],[45.4,51],[46.7,57],[41.3,54],[48.7,35],[52,37],[54.8,21],[55.4,19],
  [60,35],[62.8,54],[63.5,27],[66,54],[68,46],[71,32],[72,57],[73.6,37],[75,44],[76,52],[80,40],[81.6,26],[83.6,27],[84,55],[83,48],
  [99,55],[100.4,44],[101.7,33],[104,55],[107.8,52],[109,41],[111,37],[124.6,60],[127,54],[129,44],[131,54],[134,60],[136.6,52],
  [139,55],[142,48],[143,51],[132.6,48],[151,60],[154,52],[156.8,57],[159.5,48],[162,32],[166,41],
  [167.5,41],[170,49],[173.5,40],[177,48],[189,44],[191.7,33],[191,40],[198,55],[201,46],[203.7,52],[206,43],[204,63],[218.5,46],
  [221,41],[216,54],[230.6,51],[233,54],[237,46],[240,35],[242.7,57],[248,46],[250.7,41],[252,51],[254.7,41],[249.4,32],[256,54],
  [262.8,55],[266.8,43],[269.5,63],[273.5,68],[275,60],[277.6,54],[280,30],[281.6,49],[284.3,35],
  [285.6,60],[289.6,68],[292,76],[295,83],[298.4,85],[300.4,77],[303,71],[305.7,63],[308.4,54],[311.8,48],[315.2,33],[299,46],
  [301.7,66],[288,80],[291,86],[302,84],[306,79],[309,72],[312,66],[314,58],[296,70],[293,62],
  [316.5,77],[319,73],[323,85],[326,66],[328.6,60],[334.6,77],[338,76],[342,76],[346,76],[349.4,74],[347.4,63],[321,80],[331,78],
  [314,83],[318,84],[327,82],[344,70],
  [332.6,41],[336.6,46],[342,40],[343,48],[346,16],[350,49],[340,35],[330,50],
];

const p3Green = [
  [1,-86],[6,-85],[11,-87],[16,-86],[21,-85],[26,-87],[31,-86],[36,-85],[41,-87],[46,-86],[51,-85],[56,-87],[61,-86],[66,-85],
  [71,-87],[76,-86],[81,-85],[86,-87],[91,-86],[96,-85],[101,-87],[106,-86],[111,-85],[116,-87],[121,-86],[126,-85],[131,-87],
  [136,-86],[141,-85],[146,-87],[151,-86],[156,-85],[161,-87],[166,-86],[171,-85],[176,-87],[181,-86],[186,-85],[191,-87],[196,-86],
  [201,-85],[206,-87],[211,-86],[216,-85],[221,-87],[226,-86],[231,-85],[236,-87],[241,-86],[246,-85],[251,-87],[256,-86],[261,-85],
  [266,-87],[271,-86],[276,-85],[281,-87],[286,-86],[291,-85],[296,-87],[301,-86],[306,-85],[311,-87],[316,-86],[321,-85],[326,-87],
  [331,-86],[336,-85],[341,-87],[346,-86],
  [4,-83],[13,-84],[23,-82],[33,-83],[43,-84],[53,-82],[63,-83],[73,-84],[83,-82],[93,-83],[103,-84],[113,-82],[123,-83],[133,-84],
  [143,-82],[153,-83],[163,-84],[173,-82],[183,-83],[193,-84],[203,-82],[213,-83],[223,-84],[233,-82],[243,-83],[253,-84],[263,-82],
  [273,-83],[283,-84],[293,-82],[303,-83],[313,-84],[323,-82],[333,-83],[343,-84],
  [3,-80],[9,-82],[14,-79],[19,-81],[24,-80],[29,-82],[34,-79],[39,-81],[44,-80],[49,-82],[54,-79],[59,-81],[64,-80],[69,-82],
  [74,-79],[79,-81],[84,-80],[89,-82],[94,-79],[99,-81],[104,-80],[109,-82],[114,-79],[119,-81],[124,-80],[129,-82],[134,-79],
  [139,-81],[144,-80],[149,-82],[154,-79],[159,-81],[164,-80],[169,-82],[174,-79],[179,-81],[184,-80],[189,-82],[194,-79],[199,-81],
  [204,-80],[209,-82],[214,-79],[219,-81],[224,-80],[229,-82],[234,-79],[239,-81],[244,-80],[249,-82],[254,-79],[259,-81],[264,-80],
  [269,-82],[274,-79],[279,-81],[284,-80],[289,-82],[294,-79],[299,-81],[304,-80],[309,-82],[314,-79],[319,-81],[324,-80],[329,-82],
  [334,-79],[339,-81],[344,-80],[349,-82],
  [6,-77],[17,-78],[28,-76],[39,-77],[50,-78],[61,-76],[72,-77],[83,-78],[94,-76],[105,-77],[116,-78],[127,-76],[138,-77],[149,-78],
  [160,-76],[171,-77],[182,-78],[193,-76],[204,-77],[215,-78],[226,-76],[237,-77],[248,-78],[259,-76],[270,-77],[281,-78],[292,-76],
  [303,-77],[314,-78],[325,-76],[336,-77],[347,-78],
  [2,-74],[8,-72],[15,-75],[21,-73],[27,-74],[33,-76],[40,-72],[46,-74],[52,-75],[58,-73],[64,-74],[70,-76],[76,-72],[82,-74],
  [88,-75],[94,-73],[100,-74],[106,-76],[112,-72],[118,-74],[124,-75],[130,-73],[136,-74],[142,-76],[148,-72],[154,-74],[160,-75],
  [166,-73],[172,-74],[178,-76],[184,-72],[190,-74],[196,-75],[202,-73],[208,-74],[214,-76],[220,-72],[226,-74],[232,-75],[238,-73],
  [244,-74],[250,-76],[256,-72],[262,-74],[268,-75],[274,-73],[280,-74],[286,-76],[292,-72],[298,-74],[304,-75],[310,-73],[316,-74],
  [322,-76],[328,-72],[334,-74],[340,-75],[346,-73],[352,-74],
  [9,-71],[21,-70],[35,-72],[49,-71],[63,-70],[78,-72],[93,-71],[108,-70],[121,-72],[136,-71],[150,-70],[164,-72],[180,-71],[193,-70],
  [207,-72],[222,-71],[236,-70],[251,-72],[265,-71],[279,-70],[294,-72],[308,-71],[322,-70],[337,-72],[351,-71],
  [4,-68],[11,-66],[18,-69],[25,-67],[32,-68],[39,-70],[47,-66],[54,-68],[61,-69],[68,-67],[75,-68],[82,-70],[90,-66],[97,-68],
  [104,-69],[111,-67],[118,-68],[125,-70],[133,-66],[140,-68],[147,-69],[154,-67],[161,-68],[168,-70],[176,-66],[183,-68],[190,-69],
  [197,-67],[204,-68],[211,-70],[219,-66],[226,-68],[233,-69],[240,-67],[247,-68],[254,-70],[262,-66],[269,-68],[276,-69],[283,-67],
  [290,-68],[297,-70],[305,-66],[312,-68],[319,-69],[326,-67],[333,-68],[340,-70],[348,-66],[354,-68],
  [1,-65],[19,-66],[37,-64],[56,-65],[73,-66],[92,-64],[110,-65],[128,-66],[145,-64],[163,-65],[181,-66],[200,-64],[217,-65],[235,-66],
  [253,-64],[271,-65],[289,-66],[307,-64],[325,-65],[343,-66],
  [6,-62],[15,-60],[24,-63],[33,-61],[42,-62],[51,-64],[60,-60],[69,-62],[78,-63],[87,-61],[96,-62],[105,-64],[114,-60],[123,-62],
  [132,-63],[141,-61],[150,-62],[159,-64],[168,-60],[177,-62],[186,-63],[195,-61],[204,-62],[213,-64],[222,-60],[231,-62],[240,-63],
  [249,-61],[258,-62],[267,-64],[276,-60],[285,-62],[294,-63],[303,-61],[312,-62],[321,-64],[330,-60],[339,-62],[348,-63],
  [9,-57],[31,-55],[55,-57],[76,-56],[98,-55],[120,-57],[143,-56],[165,-55],[187,-57],[216,-56],[238,-55],[268,-57],[287,-56],
  [311,-55],[336,-57],[356,-56],
  [0.4,-21],[1.7,-9],[2.4,-24],[5,-34],[7.8,-40],[10.5,-43],[13,-37],[17,-37],[20,-40],[21,-28],[24,-12],[25,-24],[26.6,-31],
  [29.3,-18],[30.6,-12],[32,-6],[33.3,-34],[36,-49],[38.7,-12],[40,1],[41.3,4],[43.4,-18],[46.7,-24],[49.4,-18],[52,-21],[54,-12],
  [56,-34],[58.8,-31],[61.5,-18],[62.8,-34],[67,-43],[71,-40],[73.6,-37],[76,-34],[80,-31],[84.3,-24],[87,-34],[89.7,-40],[92.3,-31],
  [95,-46],[99,-59],[101.7,-53],[108.5,-59],[111,-43],[113.8,-18],[115,-34],[119,-40],[121.9,-37],[124.6,-49],[127,-43],[132.6,-49],
  [134,-40],[138,-56],[140.7,-49],[144.7,-15],[147.4,-24],[150,-21],[152.8,-34],[155.6,-24],[158,-18],[159.5,-31],[162,-43],[165,-49],
  [170,-24],[173,-12],[175.5,-9],[178,-18],[181,-31],[186.3,-21],[189,-34],[191.7,-43],[197,-34],[201,-28],[203.7,-21],[206.4,-31],
  [210.5,-43],[214.5,-21],[217,-31],[220,-40],[222.5,-49],[225,-56],[232,-9],[233,-18],[234.6,-28],[237.3,-37],[240,-46],[242.7,-56],
  [245.4,-43],[248,-37],[253.4,-53],[258.8,-37],[261.5,-31],[264.1,-9],[266.8,-24],[269.5,-34],[272.2,-43],[275,-53],[280,-34],
  [283,-24],[285.6,-21],[288.3,-34],[291,-43],[293.7,-9],[296.4,-18],[299,-31],[301.7,-43],[304.4,-53],[309.8,-43],[312.5,-31],
  [315.2,-18],[318,-24],[323,-12],[327,-15],[328.6,-24],[331,-12],[332.6,-6],[335.3,-34],[338,-43],[340.7,-56],[346,-24],[347.4,-18],
  [348.7,-40],[351.4,-31],[354,-9],[354,-37],
  [3,-50],[12,-55],[27,-48],[38,-52],[48,-45],[60,-50],[70,-55],[82,-48],[92,-52],[104,-46],[116,-55],[128,-58],[146,-52],[156,-56],
  [170,-45],[180,-52],[196,-48],[208,-55],[230,-50],[250,-48],[262,-56],[278,-50],[294,-55],[306,-48],[320,-52],[332,-46],[344,-54],
  [352,-50],[15,-30],[34,-26],[44,-30],[65,-28],[96,-30],[130,-32],[183,-38],[212,-30],[256,-40],[320,-38],[342,-30],
  [1,-4],[2,-10],[3,-16],[1,-22],
  [20,-22],[22,-28],[24,-34],[26,-40],[28,-46],[30,-52],[33,-58],[36,-64],[38,-44],[40,-38],[42,-50],[44,-56],[34,-48],
  [58,-40],[62,-46],[66,-52],[70,-58],[74,-64],[80,-44],[84,-50],[88,-56],[92,-62],[96,-48],[100,-54],[77,-60],[69,-44],
  [110,-30],[112,-36],[114,-42],[116,-48],[118,-54],
  [142,-14],[144,-20],[146,-27],[149,-33],[152,-40],[155,-46],[158,-50],[161,-36],[163,-30],[157,-22],
  [171,-4],[173,-10],[175,-16],[177,-22],[179,-28],[180,-36],[178,-42],
  [182,-12],[184,-18],[186,-26],[188,-32],[190,-40],[193,-46],[196,-52],[199,-58],[202,-64],[204,-40],[200,-30],
  [211,-20],[214,-27],[217,-34],[220,-41],
  [222,-44],[226,-50],[230,-56],[234,-62],[238,-68],[243,-52],[247,-58],
  [255,-8],[257,-14],[259,-20],[261,-26],[263,-32],[265,-38],
  [274,-8],[277,-16],[280,-24],[283,-32],[286,-40],[289,-48],[292,-56],[295,-62],[298,-50],[290,-30],[282,-44],
  [309,-10],[311,-18],[313,-26],[315,-34],[317,-42],[319,-50],
  [323,-8],[325,-15],[328,-22],[331,-30],[334,-38],[337,-44],
  [346,-8],[348,-15],[350,-22],[352,-30],[355,-37],[357,-43],
];

type Pt = { x: number; y: number };
const pts = (a: number[][]): Pt[] => a.map(([x, y]) => ({ x, y }));

const fmtLat = (v: number) => (v < 0 ? "\u2212" + Math.abs(v) : String(v));
const fmtLs = (v: number) => String(v % 360);
const fmtPlain = (v: number) => String(v);

const ring = (color: string, r: number) => (p: any) => (
  <circle cx={p.cx} cy={p.cy} r={r} fill="none" stroke={color} strokeWidth={1} />
);

const bottomTick = (fmt: (v: number) => string) => (p: any) => (
  <g>
    <line x1={p.x} x2={p.x} y1={p.y} y2={p.y - 8} stroke="#000" strokeWidth={1.2} />
    <text x={p.x} y={p.y + 26} textAnchor="middle" fontFamily={FONT} fontSize={20} letterSpacing={1.2} fill="#000">
      {fmt(p.payload.value)}
    </text>
  </g>
);

const topTick = (p: any) => (
  <line x1={p.x} x2={p.x} y1={p.y} y2={p.y + 8} stroke="#000" strokeWidth={1.2} />
);

const leftTick = (p: any) => {
  const v = p.payload.value;
  const major = v % 30 === 0;
  return (
    <g>
      <line x1={p.x} x2={p.x + (major ? 9 : 5)} y1={p.y} y2={p.y} stroke="#000" strokeWidth={1.2} />
      {major && (
        <text x={p.x - 4} y={p.y + 7} textAnchor="end" fontFamily={FONT} fontSize={20} letterSpacing={1.2} fill="#000">
          {fmtLat(v)}
        </text>
      )}
    </g>
  );
};

const rightTick = (p: any) => {
  const major = p.payload.value % 30 === 0;
  return <line x1={p.x} x2={p.x - (major ? 9 : 5)} y1={p.y} y2={p.y} stroke="#000" strokeWidth={1.2} />;
};

type Series = { data: Pt[]; color: string };

function Panel(props: {
  height: number;
  mt: number;
  mr: number;
  xh: number;
  domain: [number, number];
  ticks: number[];
  fmt: (v: number) => string;
  series: Series[];
  r: number;
}) {
  const { height, mt, mr, xh, domain, ticks, fmt, series, r } = props;
  const line = { stroke: "#000", strokeWidth: 1.5 };
  return (
    <ScatterChart width={1003} height={height} margin={{ top: mt, right: mr, bottom: 0, left: 0 }}>
      <XAxis xAxisId="b" type="number" dataKey="x" domain={domain} ticks={ticks} interval={0} height={xh}
        tickSize={0} tickMargin={0} tickLine={false} axisLine={line} tick={bottomTick(fmt)} />
      <XAxis xAxisId="t" orientation="top" type="number" dataKey="x" domain={domain} ticks={ticks} interval={0} height={1}
        tickSize={0} tickMargin={0} tickLine={false} axisLine={line} tick={topTick} />
      <YAxis yAxisId="l" type="number" dataKey="y" domain={[-90, 90]} ticks={latTicks} interval={0} width={84}
        tickSize={0} tickMargin={0} tickLine={false} axisLine={line} tick={leftTick} />
      <YAxis yAxisId="r" orientation="right" type="number" dataKey="y" domain={[-90, 90]} ticks={latTicks} interval={0} width={1}
        tickSize={0} tickMargin={0} tickLine={false} axisLine={line} tick={rightTick} />
      {series.map((s, i) => (
        <Scatter key={i} xAxisId="b" yAxisId="l" data={s.data} shape={ring(s.color, r)} isAnimationActive={false} />
      ))}
    </ScatterChart>
  );
}

export default function App() {
  const myStart = [126, 295, 467, 633, 790, 913];
  const myBars = [84, 246, 409, 572, 734, 895];
  const gray = "#8c8c8c";
  return (
    <div style={{ position: "absolute", left: 0, top: 0, width: 1003, height: 807, background: "#fff" }}>
      <div style={{ position: "absolute", left: 0, top: 0 }}>
        <Panel height={280} mt={11} mr={24} xh={78} domain={[0, 1980]} ticks={lsTicks} fmt={fmtLs} r={4.5}
          series={[{ data: pts(p1Red), color: RED }, { data: pts(p1Blue), color: BLUE }, { data: pts(p1Green), color: GREEN }]} />
      </div>
      <div style={{ position: "absolute", left: 0, top: 280 }}>
        <Panel height={265} mt={14} mr={25} xh={56} domain={[0, 24]} ticks={ltTicks} fmt={fmtPlain} r={4.5}
          series={[{ data: pts(p2Blue), color: BLUE }, { data: pts(p2Red), color: RED }, { data: pts(p2Green), color: GREEN }]} />
      </div>
      <div style={{ position: "absolute", left: 0, top: 545 }}>
        <Panel height={262} mt={12} mr={24} xh={57} domain={[0, 360]} ticks={lonTicks} fmt={fmtPlain} r={5}
          series={[{ data: pts(p3Red), color: RED }, { data: pts(p3Blue), color: BLUE }, { data: pts(p3Green), color: GREEN }]} />
      </div>
      <svg width={1003} height={807} style={{ position: "absolute", left: 0, top: 0, pointerEvents: "none" }}>
        {myBars.map((x) => (
          <line key={x} x1={x} x2={x} y1={236} y2={254} stroke={gray} strokeWidth={1.2} />
        ))}
        {yearLabels.map((t, i) => (
          <text key={t} x={myStart[i]} y={248} fill={gray} fontFamily={FONT} fontSize={21} letterSpacing={1}>
            {t}
          </text>
        ))}
        <text x={530} y={268} textAnchor="middle" fontFamily={FONT} fontSize={24}>Ls</text>
        <text x={527} y={540} textAnchor="middle" fontFamily={FONT} fontSize={24}>LT</text>
        <text x={530} y={797} textAnchor="middle" fontFamily={FONT} fontSize={24}>Longitude</text>
        {[107, 393, 654].map((cy) => (
          <text key={cy} transform={`translate(30,${cy}) rotate(-90)`} textAnchor="middle" fontFamily={FONT} fontSize={24}>
            Latitude
          </text>
        ))}
      </svg>
    </div>
  );
}
